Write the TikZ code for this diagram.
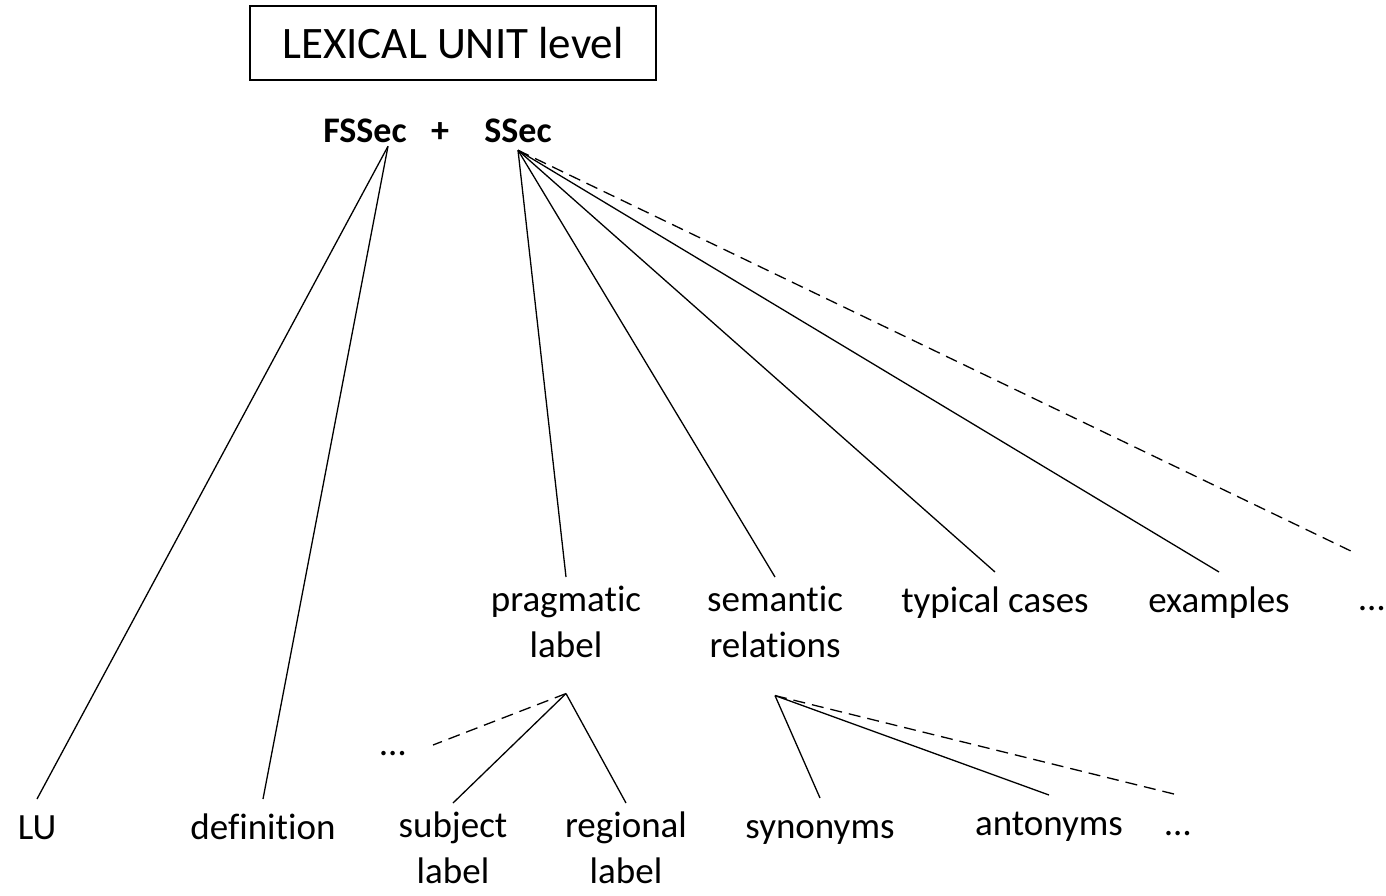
\documentclass[tikz,border=0pt]{standalone}
\usepackage{fontspec}
\setmainfont{Carlito}[Ligatures=NoCommon]
\usetikzlibrary{positioning}

\begin{document}
\begin{tikzpicture}[x=1pt,y=-1pt,line width=1.3pt,
    leaf/.style={font=\fontsize{37}{46}\selectfont,align=center,anchor=north,
      inner xsep=0pt,inner ysep=8pt,execute at begin node=\strut},
    sec/.style={font=\fontsize{36}{42}\selectfont\bfseries,anchor=base},
    more/.style={dash pattern=on 12pt off 7pt}]
  \useasboundingbox (0,0) rectangle (1386,895);

  % top
  \node[draw,line width=1.8pt,minimum width=406pt,minimum height=74pt,
    font=\fontsize{45}{54}\selectfont] (level) at (453,43) {LEXICAL UNIT level};
  \node[sec] (FSSec) at (365,142) {FSSec};
  \node[sec] (plus) at (440,142) {+};
  \node[sec] (SSec) at (518,142) {SSec};

  % first row
  \node[leaf] (LU) at (37,799) {LU};
  \node[leaf] (def) at (263,799) {definition};
  \node[leaf] (prag) at (566,577) {pragmatic\\label};
  \node[leaf] (sem) at (775,577) {semantic\\relations};
  \node[leaf] (typ) at (995,572) {typical cases};
  \node[leaf] (ex) at (1219,572) {examples};
  \node[leaf] (moreS) at (1372,570) {…};

  % second row
  \node[leaf] (moreP) at (393,715) {…};
  \node[leaf] (subj) at (453,803) {subject\\label};
  \node[leaf] (reg) at (626,803) {regional\\label};
  \node[leaf] (syn) at (820,798) {synonyms};
  \node[leaf] (ant) at (1049,795) {antonyms};
  \node[leaf] (moreR) at (1178,795) {…};

  \coordinate (fsTop) at ([xshift=23pt]FSSec.south);
  \coordinate (ssTop) at ([yshift=-4pt]SSec.south);
  \coordinate (pragTop) at ([yshift=-14pt]prag.south);
  \coordinate (semTop) at ([yshift=-16pt]sem.south);

  \path (fsTop) edge (LU.north) edge (def.north);
  \path (ssTop) edge (prag.north) edge (sem.north) edge (typ.north) edge (ex.north)
    edge[more] ([xshift=-17pt,yshift=17pt]moreS.north);
  \path (pragTop) edge (subj.north) edge (reg.north)
    edge[more] ([xshift=40pt,yshift=-30pt]moreP.north);
  \path (semTop) edge (syn.north) edge (ant.north) edge[more] (moreR.north);
\end{tikzpicture}
\end{document}
